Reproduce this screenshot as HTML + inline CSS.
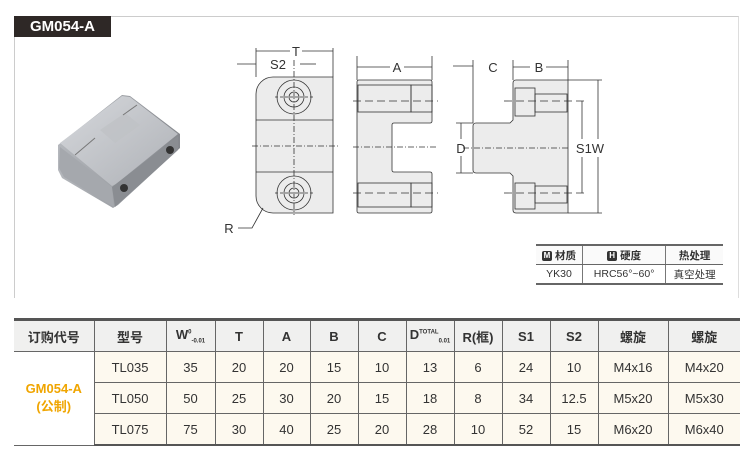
<!DOCTYPE html>
<html><head><meta charset="utf-8"><style>
body{margin:0;width:750px;height:458px;background:#fff;position:relative;overflow:hidden;font-family:"Liberation Sans","Noto Sans CJK SC",sans-serif}
.frame{position:absolute;left:14px;top:16px;width:723px;height:281px;border-top:1px solid #ccc;border-left:1px solid #ccc;border-right:1px solid #ddd}
.title{position:absolute;left:14px;top:16px;width:97px;height:21px;background:#2e2826;color:#fff;font-weight:bold;font-size:15px;line-height:21px;text-align:center}
table{border-collapse:collapse;position:absolute;font-family:"Liberation Sans","Noto Sans CJK SC",sans-serif}
#mt{left:536px;top:244px;width:187px;font-size:10.5px;color:#333}
#mt td{border-left:1px solid #777;text-align:center;height:18px;padding:0}
#mt td:first-child{border-left:none}
#mt tr:first-child td{border-top:2px solid #666;border-bottom:1px solid #666;background:#fafafa;font-weight:bold}
#mt tr:last-child td{border-bottom:2px solid #666}
.ic{display:inline-block;background:#333;color:#fff;font-size:8px;width:10px;height:10px;line-height:10px;border-radius:2px;margin-right:3px;vertical-align:1px}
#bt{left:14px;top:318px;width:726px;font-size:13px;color:#333}
#bt td{border:1px solid #666;text-align:center;padding:0;background:#fdf9ef}
#bt tr:first-child td{background:#f0f0ef;font-weight:bold;height:30px;border-top:3px solid #555;font-size:13px}
#bt tr td{height:30px}
#bt tr:last-child td{border-bottom:2px solid #555}
#bt td.o{background:#fff;color:#f0a500;font-weight:bold;border-left:none}
#bt tr:first-child td:first-child{border-left:none}
#bt td:last-child{border-right:none}
sup,sub{font-size:6px}
</style></head><body>
<div class="frame"></div>
<div class="title">GM054-A</div>
<svg width="750" height="300" style="position:absolute;left:0;top:0" font-family="Liberation Sans, sans-serif">
<defs>
<linearGradient id="g1" x1="0" y1="0" x2="1" y2="1"><stop offset="0" stop-color="#d6d8dc"/><stop offset="1" stop-color="#aeb1b6"/></linearGradient>
<linearGradient id="g2" x1="0" y1="0" x2="1" y2="0"><stop offset="0" stop-color="#b4b7bc"/><stop offset="1" stop-color="#85888d"/></linearGradient>
</defs>
<polygon points="58,145 122,95 130,96 180,134 180,148 118,205 113,208 62,178 58,170" fill="url(#g2)"/>
<polygon points="60,143 122,96 130,97 178,134 116,184 112,186" fill="url(#g1)"/>
<polygon points="60,147 112,187 114,207 64,177 59,168" fill="#a5a8ad"/>
<polygon points="112,187 178,136 178,150 115,207" fill="#8a8d92"/>
<polygon points="100,130 125,113 140,125 115,143" fill="#bfc2c6" opacity=".8"/>
<line x1="75" y1="155" x2="95" y2="138" stroke="#777"/>
<line x1="123" y1="115" x2="137" y2="105" stroke="#777"/>
<circle cx="124" cy="188" r="4" fill="#333"/><circle cx="170" cy="150" r="4" fill="#333"/>
<g stroke="#333" stroke-width="0.8" fill="none">
<path d="M273,77 H333 V213 H273 A17,17 0 0 1 256,196 V94 A17,17 0 0 1 273,77 Z" fill="#ececec"/>
<line x1="256" y1="120" x2="333" y2="120"/><line x1="256" y1="172" x2="333" y2="172"/>
<circle cx="294" cy="97" r="17"/><circle cx="294" cy="97" r="10"/><circle cx="294" cy="97" r="5"/>
<circle cx="294" cy="193" r="17"/><circle cx="294" cy="193" r="10"/><circle cx="294" cy="193" r="5"/>
<line x1="294" y1="60" x2="294" y2="215" stroke-dasharray="6,2,1,2"/>
<line x1="252" y1="146" x2="338" y2="146" stroke-dasharray="6,2,1,2"/>
<line x1="275" y1="97" x2="313" y2="97" stroke-dasharray="3,2"/><line x1="275" y1="193" x2="313" y2="193" stroke-dasharray="3,2"/>
<line x1="256" y1="48" x2="256" y2="77"/><line x1="333" y1="48" x2="333" y2="77"/>
<line x1="256" y1="51" x2="290" y2="51"/><line x1="302" y1="51" x2="333" y2="51"/>
<line x1="237" y1="64" x2="256" y2="64"/><line x1="300" y1="64" x2="316" y2="64"/>
<path d="M263,208 L252,228 H238"/>
<path d="M359,80 H430 Q432,80 432,82 V121 Q432,123 430,123 H394 Q392,123 392,125 V170 Q392,172 394,172 H430 Q432,172 432,174 V211 Q432,213 430,213 H359 Q357,213 357,211 V82 Q357,80 359,80 Z" fill="#ececec"/>
<rect x="358" y="85" width="53" height="27"/><rect x="411" y="85" width="21" height="27"/>
<rect x="358" y="183" width="53" height="24"/><rect x="411" y="183" width="21" height="24"/>
<line x1="353" y1="101" x2="438" y2="101" stroke-dasharray="8,4"/><line x1="353" y1="193" x2="438" y2="193" stroke-dasharray="8,4"/>
<line x1="353" y1="147" x2="438" y2="147" stroke-dasharray="6,2,1,2"/>
<line x1="357" y1="56" x2="357" y2="80"/><line x1="432" y1="56" x2="432" y2="80"/>
<line x1="357" y1="67" x2="390" y2="67"/><line x1="404" y1="67" x2="432" y2="67"/>
<path d="M516,80 H568 V213 H516 Q513,213 513,210 V176 L510,173 H476 Q473,173 473,170 V126 Q473,123 476,123 H510 L513,120 V83 Q513,80 516,80 Z" fill="#ececec"/>
<rect x="515" y="88" width="20" height="28"/><rect x="535" y="94" width="32" height="18"/>
<rect x="515" y="183" width="20" height="26"/><rect x="535" y="186" width="32" height="17"/>
<line x1="504" y1="101" x2="586" y2="101" stroke-dasharray="8,4"/><line x1="504" y1="193" x2="586" y2="193" stroke-dasharray="8,4"/>
<line x1="463" y1="148" x2="568" y2="148" stroke-dasharray="6,2,1,2"/>
<line x1="453" y1="66" x2="473" y2="66"/><line x1="473" y1="60" x2="473" y2="123"/>
<line x1="513" y1="60" x2="513" y2="80"/><line x1="568" y1="60" x2="568" y2="80"/>
<line x1="513" y1="67" x2="530" y2="67"/><line x1="546" y1="67" x2="568" y2="67"/>
<line x1="456" y1="123" x2="473" y2="123"/><line x1="456" y1="173" x2="473" y2="173"/>
<line x1="461" y1="123" x2="461" y2="139"/><line x1="461" y1="156" x2="461" y2="173"/>
<line x1="568" y1="80" x2="602" y2="80"/><line x1="568" y1="213" x2="602" y2="213"/>
<line x1="582" y1="101" x2="582" y2="139"/><line x1="582" y1="157" x2="582" y2="193"/>
<line x1="598" y1="80" x2="598" y2="139"/><line x1="598" y1="157" x2="598" y2="213"/>
</g>
<g font-size="13" fill="#333" text-anchor="middle">
<text x="296" y="56">T</text><text x="278" y="69">S2</text><text x="229" y="233">R</text>
<text x="397" y="72">A</text><text x="493" y="72">C</text><text x="539" y="72">B</text>
<text x="461" y="153">D</text><text x="590" y="153">S1W</text>
</g>
</svg>
<table id="mt"><tr><td><span class="ic">M</span>材质</td><td><span class="ic">H</span>硬度</td><td>热处理</td></tr>
<tr><td>YK30</td><td>HRC56°~60°</td><td>真空处理</td></tr></table>
<table id="bt">
<colgroup><col style="width:80px"><col style="width:72px"><col style="width:49px"><col style="width:48px"><col style="width:47px"><col style="width:48px"><col style="width:48px"><col style="width:48px"><col style="width:48px"><col style="width:48px"><col style="width:48px"><col style="width:70px"><col style="width:72px"></colgroup>
<tr><td style="background:#f0f0ef">订购代号</td><td>型号</td><td>W<sup>0</sup><sub>-0.01</sub></td><td>T</td><td>A</td><td>B</td><td>C</td><td>D<sup>TOTAL</sup><sub>0.01</sub></td><td>R(框)</td><td>S1</td><td>S2</td><td>螺旋</td><td>螺旋</td></tr>
<tr><td class="o" rowspan="3">GM054-A<br>(公制)</td><td>TL035</td><td>35</td><td>20</td><td>20</td><td>15</td><td>10</td><td>13</td><td>6</td><td>24</td><td>10</td><td>M4x16</td><td>M4x20</td></tr>
<tr><td>TL050</td><td>50</td><td>25</td><td>30</td><td>20</td><td>15</td><td>18</td><td>8</td><td>34</td><td>12.5</td><td>M5x20</td><td>M5x30</td></tr>
<tr><td>TL075</td><td>75</td><td>30</td><td>40</td><td>25</td><td>20</td><td>28</td><td>10</td><td>52</td><td>15</td><td>M6x20</td><td>M6x40</td></tr>
</table>
</body></html>
